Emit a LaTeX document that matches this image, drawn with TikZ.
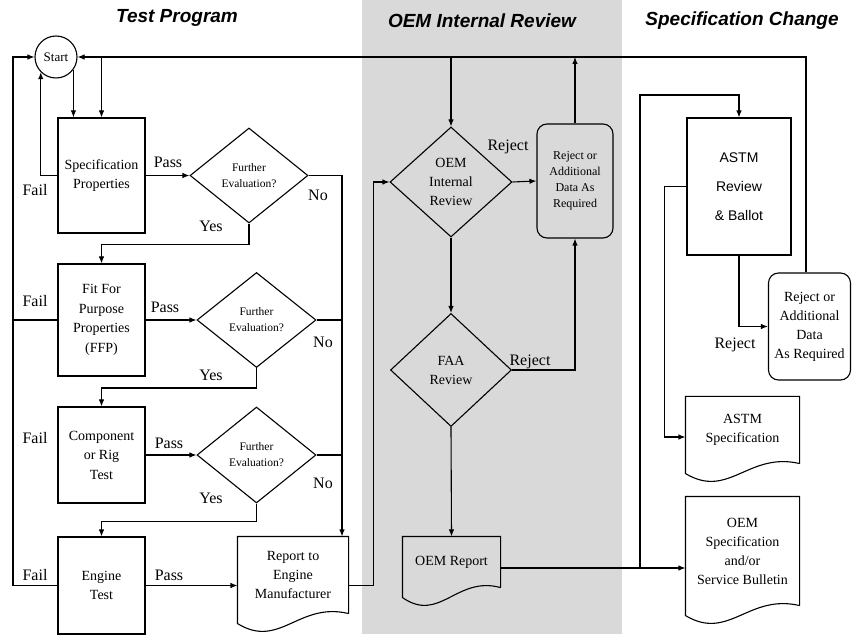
\documentclass[tikz,border=0pt]{standalone}
\usepackage{fontspec}
\setmainfont{Liberation Serif}
\setsansfont{Liberation Sans}
\usetikzlibrary{shapes.geometric,arrows.meta,calc}
\definecolor{bandgray}{RGB}{217,217,217}
\newcommand\docoutline[1]{\draw (#1.south east) -- (#1.north east) -- (#1.north west) -- ([yshift=-10pt]#1.south west)
  .. controls ($(#1.south east)!0.62!(#1.south west)+(0,-36pt)$) and ($(#1.south east)!0.45!(#1.south west)+(0,12pt)$) .. (#1.south east);}
\begin{document}
\begin{tikzpicture}[x=1pt, y=-1pt, line width=1.1pt,
>={Latex[length=7pt,width=5.5pt]},
box/.style={draw, rectangle, minimum width=87pt, align=center, font=\fontsize{14}{19.5}\selectfont, inner sep=2pt},
question/.style={draw, diamond, inner sep=0pt, align=center, font=\fontsize{11.5}{16}\selectfont},
review/.style={draw, diamond, inner sep=0pt, align=center, font=\fontsize{14}{19}\selectfont},
rejectbox/.style={draw, rectangle, rounded corners=10pt, align=center},
docbox/.style={rectangle, align=center, font=\fontsize{14}{19}\selectfont},
lbl/.style={font=\fontsize{16}{19}\selectfont},
heading/.style={font=\sffamily\bfseries\itshape\fontsize{19}{23}\selectfont}]
\useasboundingbox (0,0) rectangle (852,636);
\fill[bandgray] (362,0) rectangle (622,634);
\node[heading] (h1) at (177,18) {Test Program};
\node[heading] (h2) at (482,21) {OEM Internal Review};
\node[heading] (h3) at (742,21) {Specification Change};

\node[draw, circle, minimum size=42pt, inner sep=0pt, font=\fontsize{13}{15}\selectfont] (start) at (56,57) {Start};
\node[box, minimum height=115pt] (spec) at (101.5,175.5) {Specification\\Properties};
\node[box, minimum height=112pt] (ffp) at (101.5,320) {Fit For\\Purpose\\Properties\\(FFP)};
\node[box, minimum height=96pt] (comp) at (101.5,455) {Component\\or Rig\\Test};
\node[box, minimum height=97pt] (eng) at (101.5,585.5) {Engine\\Test};
\node[question, minimum width=118pt, minimum height=95pt] (q1) at (249,175.5) {Further\\Evaluation?};
\node[question, minimum width=119pt, minimum height=95pt] (q2) at (256.5,320) {Further\\Evaluation?};
\node[question, minimum width=119pt, minimum height=96pt] (q3) at (256.5,455) {Further\\Evaluation?};
\node[docbox, minimum width=110pt, minimum height=76pt] (report) at (293,575) {Report to\\Engine\\Manufacturer};

\node[review, minimum width=122pt, minimum height=110pt] (oem) at (451,182) {OEM\\Internal\\Review};
\node[review, minimum width=121pt, minimum height=113pt] (faa) at (451,370) {FAA\\Review};
\node[rejectbox, minimum width=76pt, minimum height=114pt, font=\fontsize{12}{16}\selectfont] (rej1) at (575,181) {Reject or\\Additional\\Data As\\Required};
\node[docbox, minimum width=97pt, minimum height=50pt] (oemrep) at (451.5,562) {OEM Report};

\node[draw, rectangle, minimum width=104pt, minimum height=137pt, align=center, font=\sffamily\fontsize{14}{29}\selectfont] (astm) at (739,186.5) {ASTM\\Review\\\& Ballot};
\node[rejectbox, minimum width=82pt, minimum height=107pt, font=\fontsize{14}{19}\selectfont] (rej2) at (809.5,326.5) {Reject or\\Additional\\Data\\As Required};
\node[docbox, minimum width=113pt, minimum height=66pt] (astmspec) at (742.5,430) {ASTM\\Specification};
\node[docbox, minimum width=113pt, minimum height=108pt] (oemspec) at (742.5,551) {OEM\\Specification\\and/or\\Service Bulletin};
\docoutline{report}
\docoutline{oemrep}
\docoutline{astmspec}
\docoutline{oemspec}

\coordinate (lft) at (13,585.5);
\coordinate (nx) at (342,175.5);
\coordinate (jn) at (640,568);
\coordinate (tp) at (640,95);

\draw[->] (eng.west) -- (lft) |- (start.west);
\draw (ffp.west) -- (ffp.west -| lft);
\draw[->] (spec.west) -| (start.225);
\draw[->] (start.-36) -- (start.-36 |- spec.north);
\draw[->] ([xshift=-3.5pt]rej2.north) |- (start.east);
\draw[->] (spec.north |- start.east) -- (spec.north);
\draw[->] (oem.north |- start.east) -- (oem.north);
\draw[->] (rej1.north) -- (rej1.north |- start.east);

\draw[->] (spec.east) -- (q1.west);
\draw[->] (ffp.east) -- (q2.west);
\draw[->] (comp.east) -- (q3.west);
\draw[->] (eng.east) -- (report.west |- eng.east);
\draw[->] (q1.east) -- (nx) -- (nx |- report.north);
\draw (q2.east) -- (q2.east -| nx);
\draw (q3.east) -- (q3.east -| nx);
\draw[->] (q1.south) -- ++(0,21) -| (ffp.north);
\draw[->] (q2.south) -- ++(0,20) -| (comp.north);
\draw[->] (q3.south) -- ++(0,18) -| (eng.north);

\draw[->] (report.east |- eng.east) -- ++(25,0) |- (oem.west);
\draw[->] (oem.east) -- (rej1.west);
\draw[->] (oem.south) -- (faa.north);
\draw[->] (faa.east) -| (rej1.south);
\draw[->] (faa.south) -- (oemrep.north);
\draw[->] (oemrep.east |- jn) -- (oemspec.west |- jn);
\draw[->] (jn) -- (tp) -| (astm.north);
\draw[->] (astm.west) -- ++(-22,0) |- ([yshift=-7pt]astmspec.west);
\draw[->] (astm.south) |- (rej2.west);

\node[lbl] (fail1) at (35,190) {Fail};
\node[lbl] (pass1) at (168,162) {Pass};
\node[lbl] (yes1) at (211,226) {Yes};
\node[lbl] (no1) at (318,195) {No};
\node[lbl] (fail2) at (35,301) {Fail};
\node[lbl] (pass2) at (165,307) {Pass};
\node[lbl] (no2) at (323,342) {No};
\node[lbl] (yes2) at (211,375) {Yes};
\node[lbl] (fail3) at (35,438) {Fail};
\node[lbl] (pass3) at (169,443) {Pass};
\node[lbl] (no3) at (323,483) {No};
\node[lbl] (yes3) at (211,498) {Yes};
\node[lbl] (fail4) at (35,575) {Fail};
\node[lbl] (pass4) at (169,575) {Pass};
\node[lbl] (reject1) at (508,147) {Reject};
\node[lbl] (reject2) at (530,362) {Reject};
\node[lbl] (reject3) at (735,345) {Reject};
\end{tikzpicture}
\end{document}
